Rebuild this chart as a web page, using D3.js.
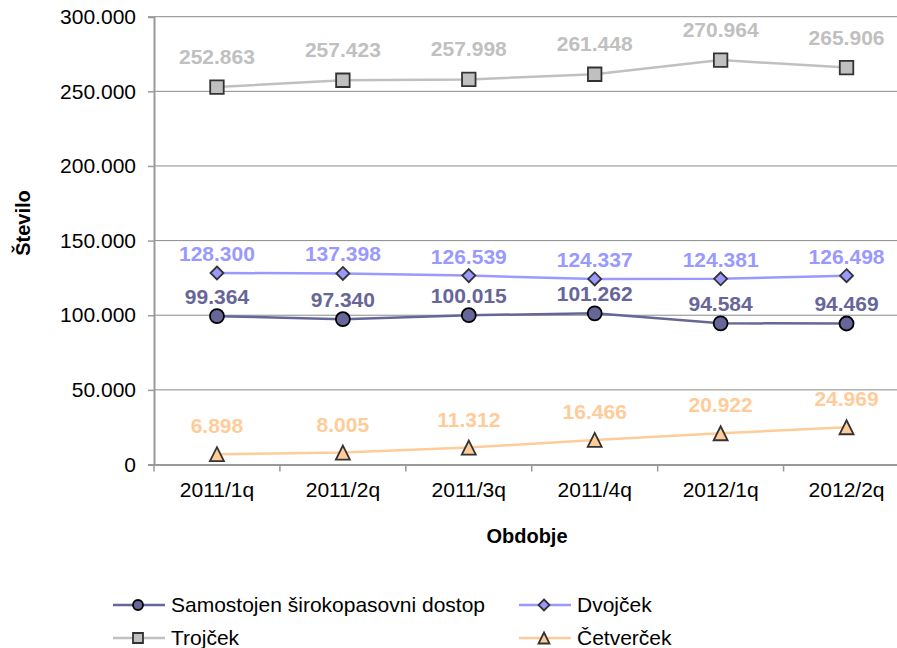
<!DOCTYPE html>
<html>
<head>
<meta charset="utf-8">
<script src="https://cdn.jsdelivr.net/npm/d3@7"></script>
<style>
  body { margin: 0; background: #fff; }
  text { font-family: Arial, "Liberation Sans", sans-serif; }
</style>
</head>
<body>
<svg id="chart"></svg>
<script>
// Data
const periods = ['2011/1q', '2011/2q', '2011/3q', '2011/4q', '2012/1q', '2012/2q'];
const samostojen = [99364, 97340, 100015, 101262, 94584, 94469];
const dvojcek = [128300, 128000, 126539, 124337, 124381, 126498];
const dvojcekLabels = [128300, 137398, 126539, 124337, 124381, 126498];
const trojcek = [252863, 257423, 257998, 261448, 270964, 265906];
const cetvercek = [6898, 8005, 11312, 16466, 20922, 24969];
const yTicks = [0, 50000, 100000, 150000, 200000, 250000, 300000];

// Canvas
let width = 897;
let height = 648;
let margin = {left: 154, top: 16.7, right: -12.5, bottom: 183.5};

let svg = d3.select('#chart')
    .attr('width', width)
    .attr('height', height);

let sl = d3.formatLocale({decimal: ',', thousands: '.', grouping: [3], currency: ['', '']});
let fmt = sl.format(',d');

let xScale = d3.scaleBand()
    .domain(periods)
    .range([margin.left, width - margin.right])
    .padding(0);
let yScale = d3.scaleLinear()
    .domain([0, 300000])
    .range([height - margin.bottom, margin.top]);

let cx = d => xScale(d) + xScale.bandwidth() / 2;

// gridlines
svg.append('g')
    .selectAll('line')
    .data(yTicks.filter(t => t > 0))
    .enter()
    .append('line')
    .attr('x1', margin.left)
    .attr('x2', width)
    .attr('y1', d => yScale(d))
    .attr('y2', d => yScale(d))
    .attr('stroke', '#8a8a8a')
    .attr('stroke-width', 1);

// y axis
let yAxis = d3.axisLeft(yScale).tickValues(yTicks).tickFormat(fmt).tickSize(6).tickPadding(12);
let gy = svg.append('g')
    .attr('transform', 'translate(' + margin.left + ',0)')
    .call(yAxis);
gy.select('.domain').attr('stroke', '#999').attr('stroke-width', 2);
gy.selectAll('.tick line').attr('stroke', '#999').attr('stroke-width', 1.5);
gy.selectAll('.tick text').attr('font-size', 21).attr('fill', '#000')
    .style('font-family', 'Arial, "Liberation Sans", sans-serif');

// x axis
let xAxis = d3.axisBottom(xScale).tickSize(0).tickPadding(18);
let gx = svg.append('g')
    .attr('transform', 'translate(0,' + yScale(0) + ')')
    .call(xAxis);
gx.select('.domain').attr('stroke', '#999').attr('stroke-width', 2);
gx.selectAll('.tick text').attr('font-size', 21).attr('fill', '#000')
    .style('font-family', 'Arial, "Liberation Sans", sans-serif');
gx.selectAll('line.bound')
    .data(periods)
    .enter()
    .append('line')
    .attr('class', 'bound')
    .attr('x1', d => xScale(d))
    .attr('x2', d => xScale(d))
    .attr('y1', 0)
    .attr('y2', 7)
    .attr('stroke', '#999')
    .attr('stroke-width', 1.5);

// axis titles
svg.append('text')
    .attr('x', 527)
    .attr('y', 543)
    .attr('text-anchor', 'middle')
    .attr('font-size', 20)
    .attr('font-weight', 'bold')
    .text('Obdobje');

svg.append('text')
    .attr('transform', 'translate(30,223) rotate(-90)')
    .attr('text-anchor', 'middle')
    .attr('font-size', 20)
    .attr('font-weight', 'bold')
    .text('Število');

// marker shapes (size = full width in px)
let shapePath = (shape, w) => {
    let h = w / 2;
    if (shape === 'circle') {
        let p = d3.path();
        p.arc(0, 0, h, 0, 2 * Math.PI);
        return p.toString();
    }
    if (shape === 'square') return `M${-h},${-h}H${h}V${h}H${-h}Z`;
    if (shape === 'diamond') return `M0,${-h}L${h},0L0,${h}L${-h},0Z`;
    // triangle
    return `M0,${-h}L${h},${h}L${-h},${h}Z`;
};

let series = [
    {name: 'Trojček', values: trojcek, labels: trojcek, color: '#c0c0c0', shape: 'square', size: 13.5, off: 23},
    {name: 'Dvojček', values: dvojcek, labels: dvojcekLabels, color: '#9999ff', shape: 'diamond', size: 13, off: 12},
    {name: 'Samostojen širokopasovni dostop', values: samostojen, labels: samostojen, color: '#666699', shape: 'circle', size: 14, off: 12},
    {name: 'Četverček', values: cetvercek, labels: cetvercek, color: '#ffcc99', shape: 'triangle', size: 14, off: 21}
];

let line = d3.line()
    .x((d, i) => cx(periods[i]))
    .y(d => yScale(d));

let drawMarker = (sel, s, size) => {
    sel.attr('d', shapePath(s.shape, size))
        .attr('fill', s.color)
        .attr('stroke', s.shape === 'circle' ? '#000' : '#333')
        .attr('stroke-width', 1.8)
        .attr('stroke-linejoin', 'miter');
};

series.forEach(s => {
    let g = svg.append('g');
    g.append('path')
        .datum(s.values)
        .attr('d', line)
        .attr('fill', 'none')
        .attr('stroke', s.color)
        .attr('stroke-width', 2.5);

    g.selectAll('path.mk')
        .data(s.values)
        .enter()
        .append('path')
        .attr('class', 'mk')
        .attr('transform', (d, i) => 'translate(' + cx(periods[i]) + ',' + yScale(d) + ')')
        .each(function() { drawMarker(d3.select(this), s, s.size); });

    g.selectAll('text.lbl')
        .data(s.values)
        .enter()
        .append('text')
        .attr('class', 'lbl')
        .attr('x', (d, i) => cx(periods[i]))
        .attr('y', d => yScale(d) - s.off)
        .attr('text-anchor', 'middle')
        .attr('font-size', 21)
        .attr('font-weight', 'bold')
        .attr('fill', s.color)
        .text((d, i) => fmt(s.labels[i]));
});

// legend
let legendItems = [
    {s: series[2], x: 113, y: 605, size: 10},
    {s: series[1], x: 519, y: 605, size: 11},
    {s: series[0], x: 113, y: 638, size: 10},
    {s: series[3], x: 519, y: 638, size: 11}
];

legendItems.forEach(item => {
    let g = svg.append('g').attr('transform', 'translate(' + item.x + ',' + item.y + ')');
    g.append('line')
        .attr('x1', 0).attr('x2', 52)
        .attr('y1', 0).attr('y2', 0)
        .attr('stroke', item.s.color)
        .attr('stroke-width', 2.5);
    g.append('path')
        .attr('transform', 'translate(25,0)')
        .call(sel => drawMarker(sel, item.s, item.size));
    g.append('text')
        .attr('x', 58)
        .attr('y', 0)
        .attr('dy', '0.35em')
        .attr('font-size', 21)
        .attr('fill', '#000')
        .text(item.s.name);
});
</script>
</body>
</html>
